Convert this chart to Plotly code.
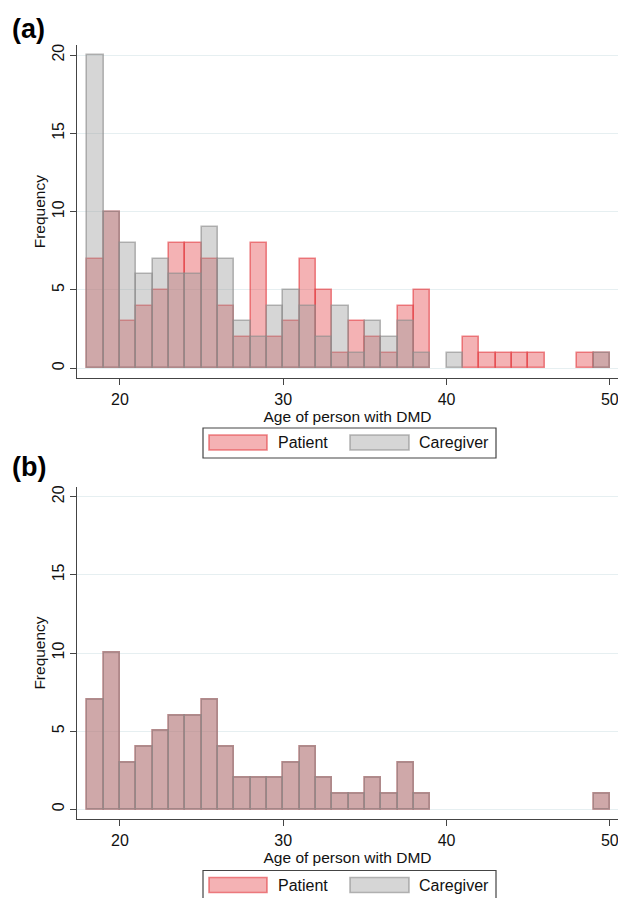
import plotly.graph_objects as go

# ---- data ----
bin_starts = list(range(18, 50))  # 1-year bins, 18..49
patient_a = [7, 10, 3, 4, 5, 8, 8, 7, 4, 2, 8, 2, 3, 7, 5, 1, 3, 2, 1, 4, 5, 0, 0, 2, 1, 1, 1, 1, 0, 0, 1, 1]
caregiver_a = [20, 10, 8, 6, 7, 6, 6, 9, 7, 3, 2, 4, 5, 4, 2, 4, 1, 3, 2, 3, 1, 0, 1, 0, 0, 0, 0, 0, 0, 0, 0, 1]
patient_b = [7, 10, 3, 4, 5, 6, 6, 7, 4, 2, 2, 2, 3, 4, 2, 1, 1, 2, 1, 3, 1, 0, 0, 0, 0, 0, 0, 0, 0, 0, 0, 1]
caregiver_b = [7, 10, 3, 4, 5, 6, 6, 7, 4, 2, 2, 2, 3, 4, 2, 1, 1, 2, 1, 3, 1, 0, 0, 0, 0, 0, 0, 0, 0, 0, 0, 1]
x_ticks = [20, 30, 40, 50]
y_ticks = [0, 5, 10, 15, 20]
series_names = ["Patient", "Caregiver"]
panel_labels = ["(a)", "(b)"]

# ---- styles ----
FONT = "Liberation Sans, Arial, sans-serif"
RED_FILL = "rgba(228,63,68,0.40)"
RED_LINE = "rgba(228,63,68,0.62)"
GREY_FILL = "rgba(152,152,152,0.40)"
GREY_LINE = "rgba(140,140,140,0.62)"
W, H = 618, 898


def nz(v):
    return [None if a == 0 else a for a in v]


fig = go.Figure()
for (pv, cv, xa, ya) in [(patient_a, caregiver_a, "x", "y"), (patient_b, caregiver_b, "x2", "y2")]:
    fig.add_trace(go.Bar(x=bin_starts, y=nz(pv), offset=0, width=1, xaxis=xa, yaxis=ya,
                         name=series_names[0], showlegend=False,
                         marker=dict(color=RED_FILL, line=dict(color=RED_LINE, width=1.6))))
    fig.add_trace(go.Bar(x=bin_starts, y=nz(cv), offset=0, width=1, xaxis=xa, yaxis=ya,
                         name=series_names[1], showlegend=False,
                         marker=dict(color=GREY_FILL, line=dict(color=GREY_LINE, width=1.6))))

def px_to_paper_y(py):
    return 1 - py / H

xdom = [77 / W, 1.0]
ydom_a = [px_to_paper_y(378.3), px_to_paper_y(45)]
ydom_b = [px_to_paper_y(819.3), px_to_paper_y(486.7)]

axis_common_x = dict(range=[17.37, 50.5], tickvals=x_ticks, ticks="outside", ticklen=6,
                     tickcolor="#444", showline=True, linecolor="#444", linewidth=1.2,
                     showgrid=False, zeroline=False, automargin=False,
                     ticklabeloverflow="allow",
                     tickfont=dict(family=FONT, size=16, color="#111"),
                     title=dict(text="Age of person with DMD", standoff=1,
                                font=dict(family=FONT, size=15.5, color="#111")))
axis_common_y = dict(range=[-0.64, 20.64], tickvals=y_ticks, ticks="outside", ticklen=6,
                     tickcolor="#444", showline=True, linecolor="#444", linewidth=1.2,
                     showgrid=True, gridcolor="#E6EFF1", gridwidth=1.2, zeroline=False,
                     tickangle=-90, automargin=False, ticklabeloverflow="allow",
                     tickfont=dict(family=FONT, size=16, color="#111"),
                     title=dict(text="Frequency", standoff=0,
                                font=dict(family=FONT, size=15.5, color="#111")))

fig.update_layout(
    width=W, height=H, barmode="overlay", bargap=0,
    paper_bgcolor="white", plot_bgcolor="white",
    margin=dict(l=0, r=0, t=0, b=0, autoexpand=False), showlegend=False,
    xaxis=dict(domain=xdom, anchor="y", **axis_common_x),
    yaxis=dict(domain=ydom_a, anchor="x", **axis_common_y),
    xaxis2=dict(domain=xdom, anchor="y2", **axis_common_x),
    yaxis2=dict(domain=ydom_b, anchor="x2", **axis_common_y),
)

shapes = []
annotations = []

# panel labels
for lab, ypx in zip(panel_labels, [29, 467]):
    annotations.append(dict(text="<b>%s</b>" % lab, x=10 / W, y=px_to_paper_y(ypx), xref="paper", yref="paper",
                            xanchor="left", yanchor="middle", showarrow=False,
                            font=dict(family=FONT, size=27, color="#000")))

# custom legends (wide swatches like the original)
for top in [428, 870.5]:
    bottom = top + 30
    shapes.append(dict(type="rect", xref="paper", yref="paper", x0=203 / W, x1=496 / W,
                       y0=px_to_paper_y(bottom), y1=px_to_paper_y(top),
                       line=dict(color="#444", width=1.2), fillcolor="white", layer="above"))
    sy0, sy1 = top + 7, top + 22
    shapes.append(dict(type="rect", xref="paper", yref="paper", x0=209 / W, x1=267 / W,
                       y0=px_to_paper_y(sy1), y1=px_to_paper_y(sy0),
                       line=dict(color=RED_LINE, width=1.6), fillcolor=RED_FILL, layer="above"))
    shapes.append(dict(type="rect", xref="paper", yref="paper", x0=350 / W, x1=409 / W,
                       y0=px_to_paper_y(sy1), y1=px_to_paper_y(sy0),
                       line=dict(color=GREY_LINE, width=1.6), fillcolor=GREY_FILL, layer="above"))
    for name, xpx in zip(series_names, [276, 417]):
        annotations.append(dict(text=name, x=xpx / W, y=px_to_paper_y(top + 14.5), xref="paper", yref="paper",
                                xanchor="left", yanchor="middle", showarrow=False,
                                font=dict(family=FONT, size=16, color="#111")))

fig.update_layout(shapes=shapes, annotations=annotations)
fig.write_html("out.html", config={"displayModeBar": False},
               post_script="document.body.style.margin='0';document.body.style.overflow='hidden';")
